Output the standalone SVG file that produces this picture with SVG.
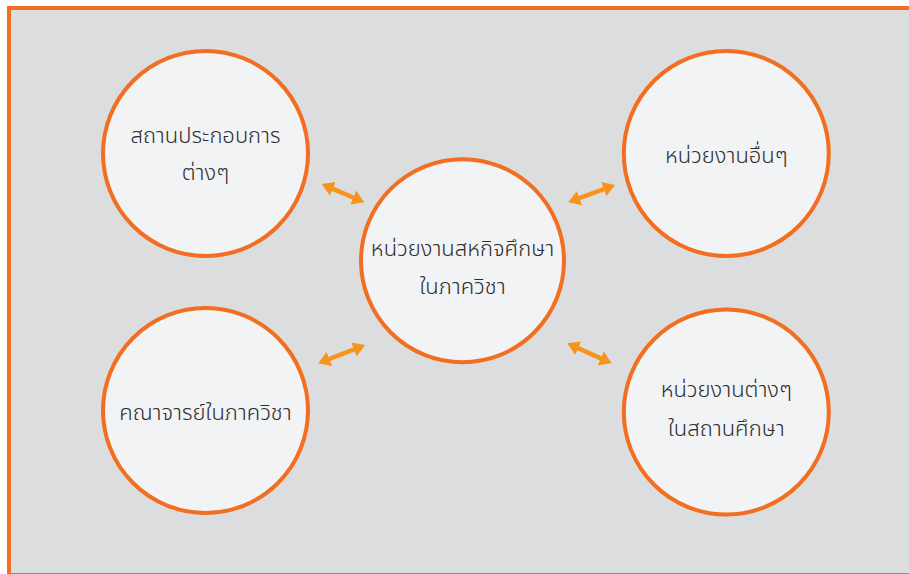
<svg xmlns="http://www.w3.org/2000/svg" width="909" height="574" viewBox="0 0 909 574">
  <style>
    .node circle { fill: #F2F3F5; stroke: #F26F21; stroke-width: 4; }
    .node text { font-family: "Noto Sans Thai", "Noto Sans", "DejaVu Sans", sans-serif; font-size: 22px; font-weight: 300; fill: #2E2E2E; text-anchor: middle; }
    .link { stroke: #F7941D; stroke-width: 4.5; fill: none; marker-start: url(#head); marker-end: url(#head); }
  </style>
  <defs>
    <marker id="head" markerUnits="userSpaceOnUse" markerWidth="16" markerHeight="18" viewBox="0 -9 16 18" refX="3" refY="0" orient="auto-start-reverse">
      <path d="M0,-7.5 L12,0 L0,7.5 Z" fill="#F7941D"/>
    </marker>
  </defs>

  <!-- page frame -->
  <rect x="0" y="0" width="909" height="574" fill="#FFFFFF"/>
  <rect x="9" y="8" width="902" height="567" fill="#DCDDDF" stroke="#F26F21" stroke-width="4"/>

  <!-- connectors -->
  <g id="connectors">
    <line class="link" x1="330.0" y1="187.6" x2="356.0" y2="198.7"/>
    <line class="link" x1="576.7" y1="199.2" x2="606.6" y2="188.1"/>
    <line class="link" x1="326.6" y1="360.0" x2="356.7" y2="348.3"/>
    <line class="link" x1="575.5" y1="347.0" x2="603.5" y2="359.6"/>
  </g>

  <!-- nodes -->
  <g id="node-business" class="node">
    <circle cx="205.5" cy="153.5" r="102.5"/>
    <text x="205.5" y="143">สถานประกอบการ</text>
    <text x="205.5" y="180">ต่างๆ</text>
  </g>
  <g id="node-other" class="node">
    <circle cx="726.3" cy="153.5" r="102.5"/>
    <text x="726.3" y="163">หน่วยงานอื่นๆ</text>
  </g>
  <g id="node-coop" class="node">
    <circle cx="462.5" cy="260.7" r="101.5"/>
    <text x="462.5" y="256">หน่วยงานสหกิจศึกษา</text>
    <text x="462.5" y="294">ในภาควิชา</text>
  </g>
  <g id="node-faculty" class="node">
    <circle cx="205.5" cy="410.5" r="102.5"/>
    <text x="205.5" y="420">คณาจารย์ในภาควิชา</text>
  </g>
  <g id="node-campus" class="node">
    <circle cx="726.3" cy="412" r="102.5"/>
    <text x="726.3" y="397">หน่วยงานต่างๆ</text>
    <text x="726.3" y="436">ในสถานศึกษา</text>
  </g>
</svg>
